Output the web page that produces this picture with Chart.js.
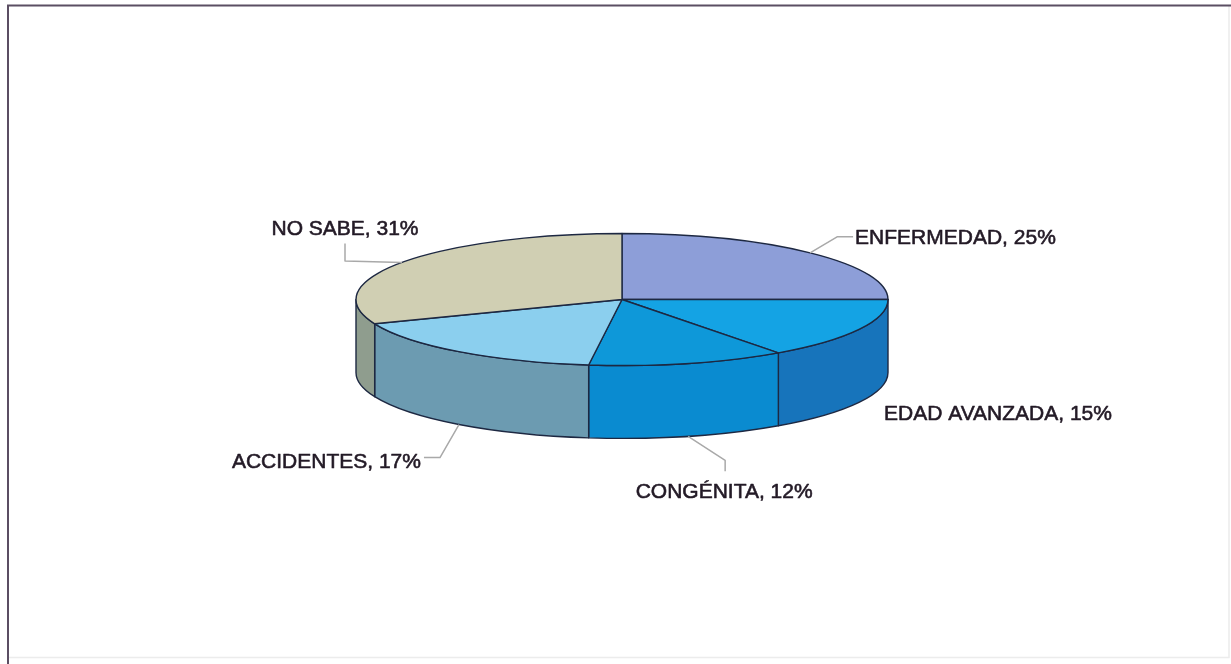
<!DOCTYPE html>
<html>
<head>
<meta charset="utf-8">
<script src="https://cdn.jsdelivr.net/npm/chart.js@4/dist/chart.umd.min.js"></script>
<style>
  html, body { margin: 0; padding: 0; background: #ffffff; overflow: hidden; }
  canvas { display: block; }
</style>
</head>
<body>
<canvas id="c" width="1231" height="664"></canvas>
<script>
// Causes, in percent of respondents
const categories  = ['ENFERMEDAD', 'EDAD AVANZADA', 'CONGÉNITA', 'ACCIDENTES', 'NO SABE'];
const percentages = [25, 15, 12, 17, 31];

// Face colours (top) and rim colours (side wall) per slice
const topColors  = ['#8d9ed8', '#14a3e4', '#0e98d9', '#8bcfee', '#d0cfb3'];
const sideColors = ['#7182bb', '#1774bb', '#0a8bd0', '#6c9bb1', '#8f9d8e'];

// Pie projection: vertical squash of the disc and rim height, relative to radius
const TILT = 0.248;
const DEPTH = 0.274;

// Callout layout per slice, offsets from the slice's rim anchor point
// leader: polyline points; text: [dx, dy, align]
const callouts = [
  { leader: [[27, -16], [43, -16]], text: [45, -9, 'left'] },
  { leader: [], text: [25, 17.5, 'left'] },
  { leader: [[37, 24], [37, 35]], text: [36, 61.5, 'center'] },
  { leader: [[-19, 33], [-35, 33]], text: [-38, 43, 'right'] },
  { leader: [[-57, -1.5], [-57, -19]], text: [-57, -27, 'center'] }
];

const pie3d = {
  id: 'pie3d',
  beforeDraw(chart) {
    // panel frame
    const ctx = chart.ctx;
    ctx.save();
    ctx.strokeStyle = '#ececec';
    ctx.lineWidth = 1.5;
    ctx.beginPath();
    ctx.moveTo(1229, 5); ctx.lineTo(1229, 657.5); ctx.lineTo(8, 657.5);
    ctx.stroke();
    ctx.strokeStyle = '#5b4e63';
    ctx.lineWidth = 2;
    ctx.beginPath();
    ctx.moveTo(8, 664); ctx.lineTo(8, 5.5); ctx.lineTo(1231, 5.5);
    ctx.stroke();
    ctx.restore();
  },
  beforeDatasetsDraw(chart) {
    const ctx = chart.ctx;
    const arcs = chart.getDatasetMeta(0).data;
    const p0 = arcs[0].getProps(['x', 'y', 'outerRadius'], true);
    const cx = p0.x, cy = p0.y, R = p0.outerRadius;
    const ry = R * TILT;
    const D = R * DEPTH;

    ctx.save();
    ctx.lineJoin = 'round';
    ctx.lineWidth = 1.4;
    ctx.strokeStyle = '#1d2842';

    // side walls, front half only (canvas angles 0..PI face the viewer)
    arcs.forEach((arc, i) => {
      const p = arc.getProps(['startAngle', 'endAngle'], true);
      const a1 = Math.max(p.startAngle, 0);
      const a2 = Math.min(p.endAngle, Math.PI);
      if (a2 <= a1) return;
      ctx.beginPath();
      ctx.moveTo(cx + R * Math.cos(a1), cy + ry * Math.sin(a1));
      ctx.ellipse(cx, cy, R, ry, 0, a1, a2, false);
      ctx.lineTo(cx + R * Math.cos(a2), cy + D + ry * Math.sin(a2));
      ctx.ellipse(cx, cy + D, R, ry, 0, a2, a1, true);
      ctx.closePath();
      ctx.fillStyle = sideColors[i];
      ctx.fill();
      ctx.stroke();
    });

    // top faces
    arcs.forEach((arc, i) => {
      const p = arc.getProps(['startAngle', 'endAngle'], true);
      ctx.beginPath();
      ctx.moveTo(cx, cy);
      ctx.ellipse(cx, cy, R, ry, 0, p.startAngle, p.endAngle, false);
      ctx.closePath();
      ctx.fillStyle = topColors[i];
      ctx.fill();
      ctx.stroke();
    });

    // callouts
    ctx.font = '21px "Liberation Sans", Arial, sans-serif';
    ctx.textBaseline = 'alphabetic';
    arcs.forEach((arc, i) => {
      const p = arc.getProps(['startAngle', 'endAngle'], true);
      const mid = (p.startAngle + p.endAngle) / 2;
      const s = Math.sin(mid);
      const ax = cx + R * Math.cos(mid);
      const ay = cy + ry * s + (s > 0 ? D : 0);
      const c = callouts[i];
      if (c.leader.length) {
        ctx.beginPath();
        ctx.strokeStyle = '#a9a9a9';
        ctx.lineWidth = 1.5;
        ctx.moveTo(ax, ay);
        c.leader.forEach(([dx, dy]) => ctx.lineTo(ax + dx, ay + dy));
        ctx.stroke();
      }
      const label = categories[i] + ', ' + percentages[i] + '%';
      const tx = ax + c.text[0], ty = ay + c.text[1];
      ctx.textAlign = c.text[2];
      ctx.fillStyle = '#231a26';
      ctx.strokeStyle = '#231a26';
      ctx.lineWidth = 0.6;
      ctx.fillText(label, tx, ty);
      ctx.strokeText(label, tx, ty);
    });

    ctx.restore();
    return false;
  }
};

new Chart(document.getElementById('c'), {
  type: 'pie',
  data: {
    labels: categories,
    datasets: [{
      data: percentages,
      backgroundColor: topColors,
      borderWidth: 0,
      hoverOffset: 0,
      offset: 0
    }]
  },
  options: {
    responsive: false,
    animation: false,
    events: [],
    layout: { padding: { left: 356, right: 343, top: 33.5, bottom: 98.5 } },
    plugins: { legend: { display: false }, tooltip: { enabled: false } }
  },
  plugins: [pie3d]
});
</script>
</body>
</html>
